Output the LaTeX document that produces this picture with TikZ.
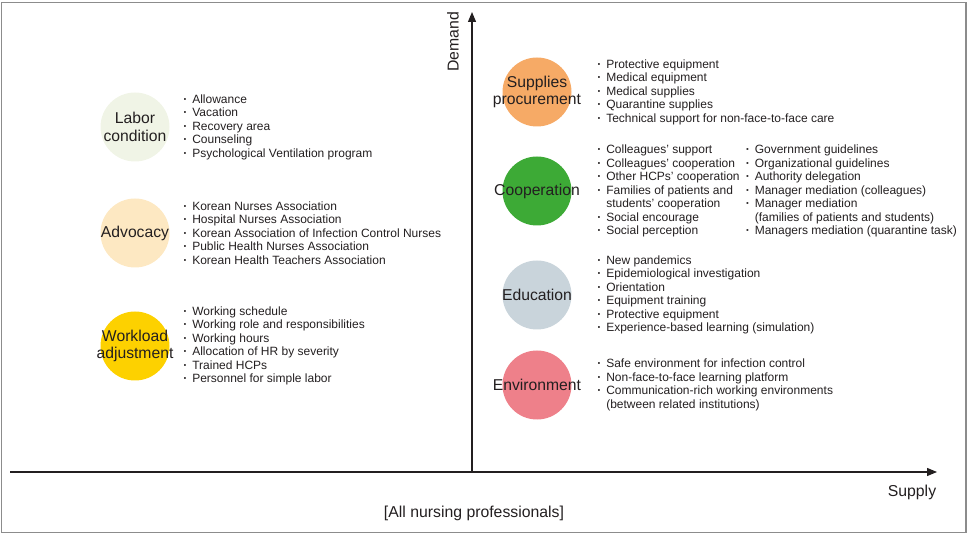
\documentclass[tikz,border=0pt]{standalone}
\usepackage{fontspec}
\setmainfont{Liberation Sans}
\usetikzlibrary{positioning}
\usetikzlibrary{arrows.meta}
\definecolor{ink}{HTML}{231F20}
\definecolor{framegray}{HTML}{8C8C8C}
\definecolor{laborcol}{HTML}{F0F4E6}
\definecolor{advocol}{HTML}{FDE8C2}
\definecolor{workcol}{HTML}{FDD100}
\definecolor{supplycol}{HTML}{F6AA66}
\definecolor{coopcol}{HTML}{3DAA36}
\definecolor{educol}{HTML}{C9D4DB}
\definecolor{envcol}{HTML}{EE808A}
\newcommand{\itemdot}{\textbf{·}\hspace{5pt}}
\tikzstyle{bubble} = [circle, minimum size=69pt, inner sep=0pt, draw=none]
\tikzstyle{bubbletext} = [align=center, font=\fontsize{15.7}{17.6}\selectfont, text=ink, inner sep=0pt]
\tikzstyle{itemlist} = [align=left, font=\fontsize{12}{13.5}\selectfont, text=ink, inner sep=0pt]
\tikzstyle{axislabel} = [font=\fontsize{15.8}{18}\selectfont, text=ink, inner sep=0pt]
\tikzstyle{axis} = [-{Triangle[length=10pt,width=8pt]}, line width=1.2pt, draw=ink]

\begin{document}
\begin{tikzpicture}[x=1pt, y=-1pt]
			\useasboundingbox (0,0) rectangle (969,534);
			\draw[framegray, line width=1.2pt] (1.5,2.5) rectangle (966,532.5);
			% axes
			\coordinate (origin) at (472,472);
			\coordinate (ytop) at (472,12);
			\coordinate (xleft) at (10,472);
			\coordinate (xright) at (937,472);
			\draw[axis] (xleft) -- (xright);
			\draw[axis] (origin) -- (ytop);
			\node[axislabel, rotate=90] (demand) at (453,42) {Demand};
			\node[axislabel] (supply) at (912,492) {Supply};
			\node[axislabel] (allnurse) at (474,513) {[All nursing professionals]};
			% left side
			\node[bubble, fill=laborcol, label={[bubbletext]center:Labor\\condition}] (labor) at (135,127) {};
			\node[itemlist, right=13.4pt of labor](laborlist){\itemdot Allowance\\\itemdot Vacation\\\itemdot Recovery area\\\itemdot Counseling\\\itemdot Psychological Ventilation program};
			\node[bubble, fill=advocol, label={[bubbletext]center:Advocacy}] (advocacy) at (135,233) {};
			\node[itemlist, right=13.4pt of advocacy](advocacylist){\itemdot Korean Nurses Association\\\itemdot Hospital Nurses Association\\\itemdot Korean Association of Infection Control Nurses\\\itemdot Public Health Nurses Association\\\itemdot Korean Health Teachers Association};
			\node[bubble, fill=workcol, label={[bubbletext]center:Workload\\adjustment}] (workload) at (135,346) {};
			\node[itemlist, right=13.4pt of workload](workloadlist){\itemdot Working schedule\\\itemdot Working role and responsibilities\\\itemdot Working hours\\\itemdot Allocation of HR by severity\\\itemdot Trained HCPs\\\itemdot Personnel for simple labor};
			% right side
			\node[bubble, fill=supplycol, label={[bubbletext]center:Supplies\\procurement}] (supplies) at (537,92) {};
			\node[itemlist, right=25.4pt of supplies](supplieslist){\itemdot Protective equipment\\\itemdot Medical equipment\\\itemdot Medical supplies\\\itemdot Quarantine supplies\\\itemdot Technical support for non-face-to-face care};
			\node[bubble, fill=coopcol, label={[bubbletext]center:Cooperation}] (coop) at (537,191) {};
			\node[itemlist, right=25.4pt of coop](cooplistA){\itemdot Colleagues’ support\\\itemdot Colleagues’ cooperation\\\itemdot Other HCPs’ cooperation\\\itemdot Families of patients and\\\hphantom{\itemdot}students’ cooperation\\\itemdot Social encourage\\\itemdot Social perception};
			\node[itemlist, anchor=west](cooplistB) at ([xshift=148.5pt]cooplistA.west){\itemdot Government guidelines\\\itemdot Organizational guidelines\\\itemdot Authority delegation\\\itemdot Manager mediation (colleagues)\\\itemdot Manager mediation\\\hphantom{\itemdot}(families of patients and students)\\\itemdot Managers mediation (quarantine task)};
			\node[bubble, fill=educol, label={[bubbletext]center:Education}] (education) at (537,295) {};
			\node[itemlist, right=25.4pt of education](educationlist){\itemdot New pandemics\\\itemdot Epidemiological investigation\\\itemdot Orientation\\\itemdot Equipment training\\\itemdot Protective equipment\\\itemdot Experience-based learning (simulation)};
			\node[bubble, fill=envcol, label={[bubbletext]center:Environment}] (environment) at (537,385) {};
			\node[itemlist, right=25.4pt of environment](environmentlist){\itemdot Safe environment for infection control\\\itemdot Non-face-to-face learning platform\\\itemdot Communication-rich working environments\\\hphantom{\itemdot}(between related institutions)};
		\end{tikzpicture}
\end{document}
